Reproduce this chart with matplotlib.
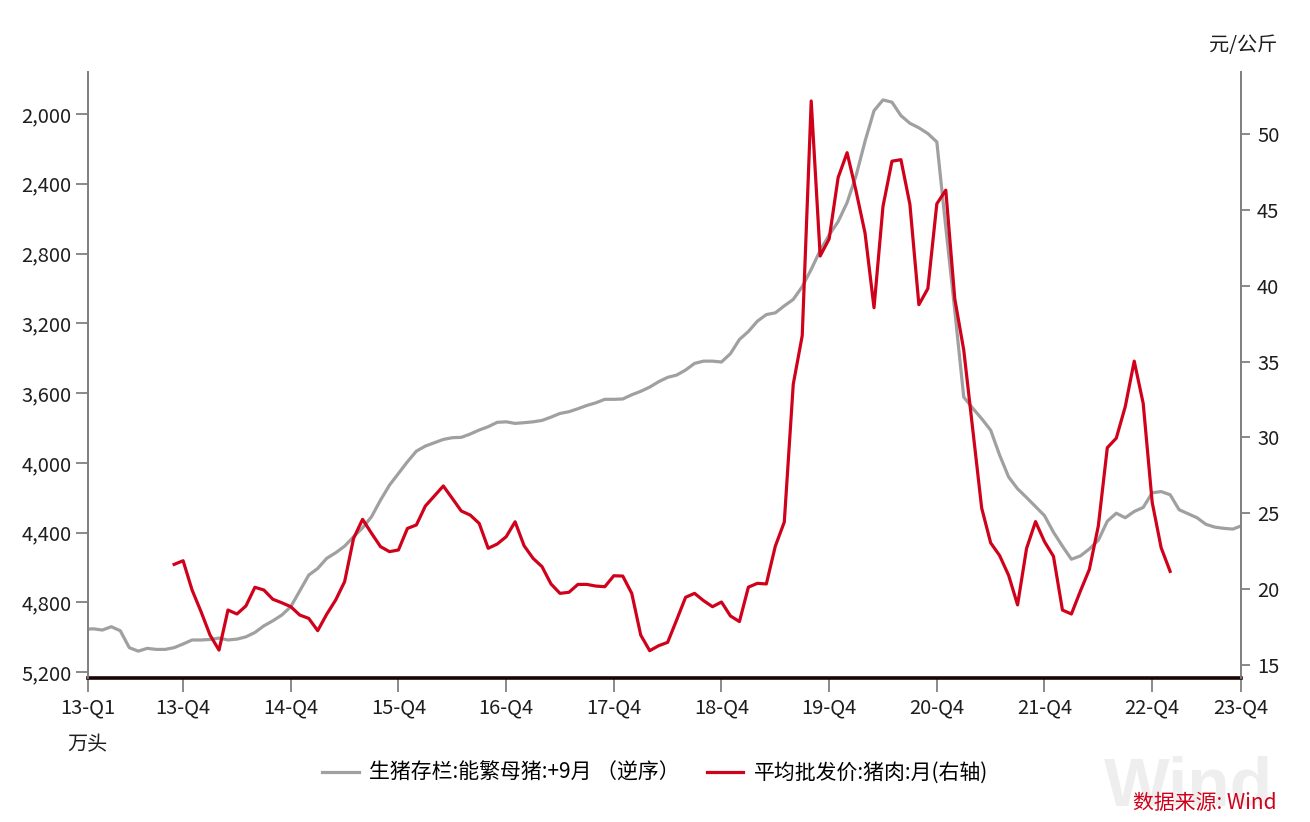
import numpy as np
import matplotlib
matplotlib.use("Agg")
import matplotlib.pyplot as plt
from matplotlib.ticker import FuncFormatter, FixedLocator

plt.rcParams["font.family"] = ["Noto Sans CJK SC", "DejaVu Sans"]

# =========================
# Dados (índice mensal, 0 = jan/2013)
# =========================
# 生猪存栏:能繁母猪:+9月 (万头), m = 0..129
sows = [
    4955, 4952, 4959, 4940, 4963, 5060, 5080, 5064, 5070, 5070,
    5060, 5039, 5016, 5016, 5013, 5005, 5016, 5011, 4998, 4973,
    4935, 4906, 4873, 4825, 4735, 4644, 4606, 4548, 4516, 4478,
    4424, 4373, 4309, 4214, 4128, 4061, 3994, 3933, 3904, 3885,
    3866, 3856, 3854, 3835, 3812, 3793, 3768, 3765, 3774, 3770,
    3765, 3757, 3738, 3717, 3707, 3690, 3671, 3656, 3636, 3636,
    3634, 3610, 3590, 3566, 3535, 3510, 3497, 3468, 3430, 3417,
    3417, 3422, 3374, 3293, 3247, 3188, 3150, 3140, 3100, 3063,
    2990, 2891, 2782, 2694, 2617, 2508, 2354, 2156, 1981, 1919,
    1932, 2009, 2053, 2079, 2112, 2160, 2650, 3126, 3623, 3687,
    3747, 3813, 3956, 4081, 4149, 4199, 4251, 4303, 4398, 4478,
    4553, 4534, 4494, 4444, 4335, 4289, 4315, 4279, 4256, 4172,
    4165, 4183, 4269, 4292, 4315, 4353, 4369, 4376, 4380, 4360,
]
# 平均批发价:猪肉:月 (元/公斤), m = 10..121
pork_start = 10
pork = [
    21.63, 21.87, 19.94, 18.51, 16.97, 15.98, 18.62, 18.36, 18.89, 20.12,
    19.94, 19.33, 19.10, 18.84, 18.29, 18.07, 17.26, 18.34, 19.28, 20.49,
    23.35, 24.60, 23.68, 22.80, 22.47, 22.58, 24.00, 24.23, 25.48, 26.14,
    26.80, 25.98, 25.15, 24.88, 24.33, 22.69, 22.97, 23.45, 24.44, 22.86,
    22.03, 21.48, 20.34, 19.72, 19.79, 20.31, 20.31, 20.20, 20.16, 20.88,
    20.86, 19.72, 16.97, 15.94, 16.27, 16.49, 17.96, 19.46, 19.72, 19.24,
    18.84, 19.15, 18.23, 17.86, 20.13, 20.38, 20.34, 22.83, 24.42, 33.51,
    36.71, 52.18, 41.96, 43.09, 47.13, 48.77, 46.24, 43.47, 38.55, 45.23,
    48.21, 48.31, 45.36, 38.75, 39.81, 45.40, 46.30, 39.14, 35.76, 30.55,
    25.34, 23.05, 22.21, 20.91, 18.96, 22.68, 24.45, 23.13, 22.16, 18.62,
    18.36, 19.87, 21.30, 24.17, 29.32, 29.95, 32.03, 35.03, 32.24, 25.73,
    22.73, 21.17,
]
tick_pos = [0.4, 11, 23, 35, 47, 59, 71, 83, 95, 107, 119, 128.9]
tick_labels = ["13-Q1", "13-Q4", "14-Q4", "15-Q4", "16-Q4", "17-Q4",
               "18-Q4", "19-Q4", "20-Q4", "21-Q4", "22-Q4", "23-Q4"]
left_ticks = [2000, 2400, 2800, 3200, 3600, 4000, 4400, 4800, 5200]
right_ticks = [15, 20, 25, 30, 35, 40, 45, 50]

GRAY = "#a0a0a0"
RED = "#d0021b"
AXC = "#808080"
TXT = "#1e1e1e"
FS = 14.5

fig = plt.figure(figsize=(13.1, 8.22), dpi=100)
ax = fig.add_axes([88 / 1310, 1 - 678 / 822, (1241 - 88) / 1310, (678 - 72) / 822])
ax2 = ax.twinx()

# marca d'água (atrás de tudo)
fig.text(1104 / 1310, 1 - 819 / 822, "Wind", ha="left", va="bottom", fontsize=50,
         color="#eeeeee", fontweight="bold", family="Liberation Sans", zorder=0)

x_sows = np.arange(len(sows))
x_pork = np.arange(len(pork)) + pork_start

l1, = ax.plot(x_sows, sows, color=GRAY, lw=2.3, solid_joinstyle="round")
l2, = ax2.plot(x_pork, pork, color=RED, lw=2.3, solid_joinstyle="round")

ax.set_xlim(0.4, 128.9)
ax.set_ylim(5234, 1759)
ax2.set_ylim(14.14, 54.09)

ax.yaxis.set_major_locator(FixedLocator(left_ticks))
ax.yaxis.set_major_formatter(FuncFormatter(lambda v, p: f"{int(v):,}"))
ax2.yaxis.set_major_locator(FixedLocator(right_ticks))
ax.set_xticks(tick_pos)
ax.set_xticklabels(tick_labels)

for a in (ax, ax2):
    a.patch.set_visible(False)
    a.spines["top"].set_visible(False)
    a.spines["left"].set_color(AXC)
    a.spines["right"].set_color(AXC)
    a.spines["left"].set_linewidth(1.3)
    a.spines["right"].set_linewidth(1.3)
    a.spines["bottom"].set_visible(False)
ax.spines["bottom"].set_visible(True)
ax.spines["bottom"].set_color("#1a0505")
ax.spines["bottom"].set_linewidth(2.6)
ax.spines["bottom"].set_zorder(5)

ax.tick_params(axis="y", direction="out", length=9, width=1.3, color=AXC,
               labelsize=FS, pad=3, labelcolor=TXT)
ax2.tick_params(axis="y", direction="out", length=6.5, width=1.3, color=AXC,
                labelsize=FS, pad=5, labelcolor=TXT)
ax.tick_params(axis="x", direction="out", length=10, width=1.3, color=AXC,
               labelsize=FS, pad=4, labelcolor=TXT)

fig.text(1277 / 1310, 1 - 45 / 822, "元/公斤", ha="right", va="center", fontsize=FS, color=TXT)
fig.text(67 / 1310, 1 - 745 / 822, "万头", ha="left", va="center", fontsize=FS, color=TXT)

fig.legend([l1, l2], ["生猪存栏:能繁母猪:+9月 （逆序）", "平均批发价:猪肉:月(右轴)"],
           loc="center", bbox_to_anchor=(0.5, 1 - 773 / 822), ncol=2, frameon=False,
           fontsize=15, handlelength=1.75, columnspacing=1.3, handletextpad=0.5)

fig.text(1277 / 1310, 1 - 803 / 822, "数据来源: Wind", ha="right", va="center",
         fontsize=15, color=RED)

fig.savefig("out.png", dpi=100)
